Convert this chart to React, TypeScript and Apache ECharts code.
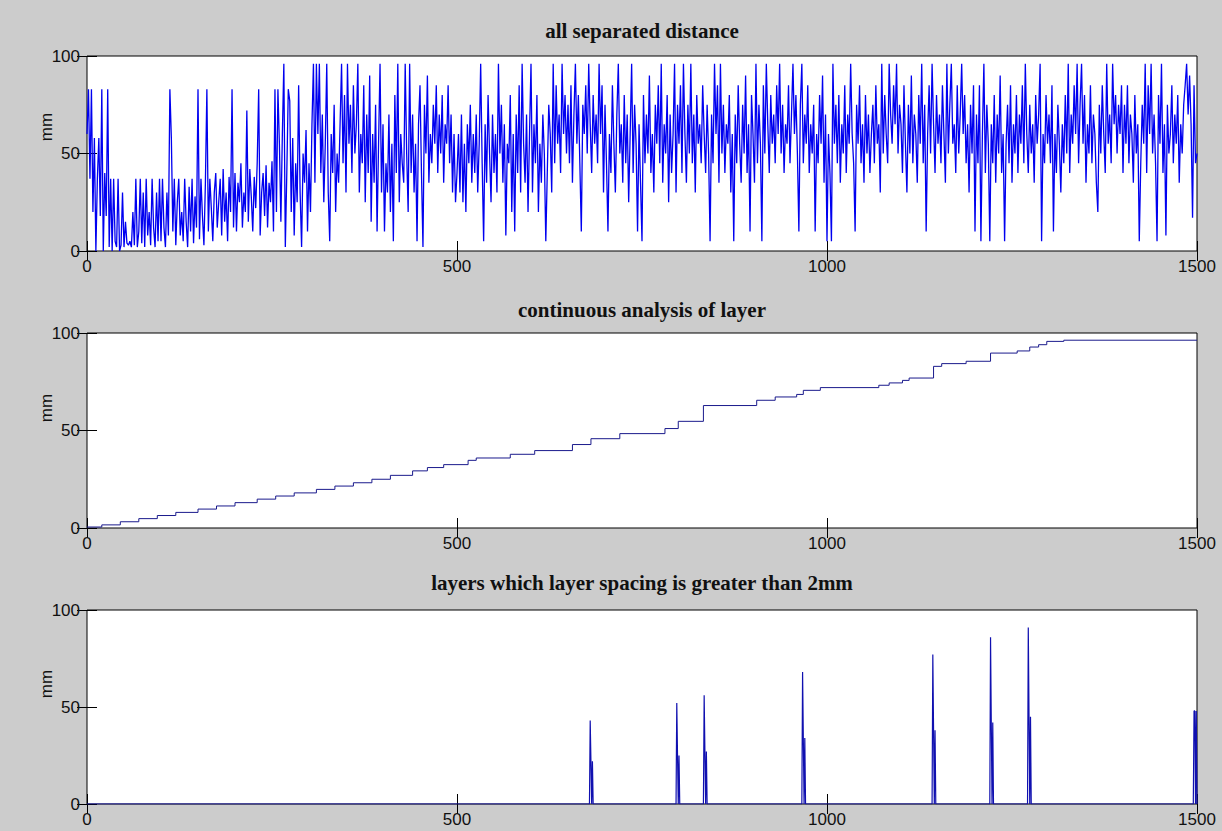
import React, { useEffect, useRef } from "react";
import * as echarts from "echarts";

// Sample spacing of the separated-distance record (index units)
const SAMPLE_STEP = 2;

// Separated distance per sample (mm), one row per 100 index units
const separatedDistance = [
  60, 83, 37, 83, 20, 58, 0, 37, 58, 18, 83, 0, 40, 18, 83, 2, 37, 0, 37, 5,
  2, 37, 0, 3, 30, 2, 15, 4, 3, 5, 2, 20, 3, 37, 2, 10, 37, 4, 30, 2,
  37, 8, 20, 3, 37, 12, 2, 30, 5, 37,

  5, 37, 12, 2, 30, 8, 83, 58, 10, 37, 3, 25, 37, 8, 20, 5, 37, 15, 2, 33,
  10, 37, 4, 28, 12, 83, 6, 37, 18, 3, 35, 83, 10, 37, 22, 5, 30, 40, 12, 25,
  37, 8, 42, 15, 30, 5, 38, 20, 83, 12,

  40, 10, 35, 25, 45, 12, 30, 20, 72, 15, 42, 28, 10, 38, 22, 45, 83, 8, 30, 40,
  18, 44, 12, 35, 25, 46, 10, 83, 20, 83, 55, 15, 60, 96, 2, 40, 83, 77, 20, 58,
  8, 45, 25, 85, 30, 2, 50, 35, 62, 10,

  45, 20, 65, 96, 35, 96, 60, 96, 40, 70, 25, 55, 96, 30, 5, 60, 40, 75, 20, 50,
  35, 65, 96, 45, 80, 30, 96, 55, 75, 40, 85, 50, 65, 96, 30, 60, 45, 85, 25, 70,
  40, 90, 15, 60, 35, 75, 10, 55, 96, 30,

  65, 10, 45, 30, 70, 20, 55, 5, 80, 40, 96, 25, 60, 45, 35, 96, 50, 20, 96, 40,
  70, 30, 55, 5, 65, 85, 40, 2, 75, 50, 90, 35, 60, 45, 75, 55, 85, 40, 70, 50,
  80, 35, 65, 55, 85, 45, 70, 30, 60, 25,

  40, 60, 30, 70, 25, 55, 20, 65, 45, 75, 35, 60, 40, 70, 30, 55, 96, 45, 5, 65,
  35, 80, 50, 25, 70, 40, 60, 30, 96, 50, 75, 35, 65, 8, 55, 45, 80, 20, 60, 10,
  70, 40, 85, 30, 96, 55, 35, 70, 20, 60,

  96, 30, 65, 45, 80, 20, 55, 35, 70, 50, 5, 40, 75, 60, 30, 96, 45, 85, 55, 70,
  40, 96, 60, 80, 50, 75, 45, 85, 35, 70, 96, 55, 80, 45, 10, 75, 60, 85, 50, 96,
  65, 40, 80, 55, 70, 45, 96, 60, 85, 30,

  75, 45, 10, 60, 40, 85, 55, 30, 70, 96, 50, 65, 35, 80, 45, 70, 25, 60, 96, 40,
  75, 55, 10, 65, 35, 5, 80, 45, 70, 50, 90, 40, 60, 30, 75, 55, 85, 45, 96, 35,
  65, 50, 80, 25, 70, 40, 60, 96, 30, 75,

  55, 85, 40, 96, 60, 35, 75, 50, 96, 45, 70, 30, 80, 55, 65, 45, 85, 60, 40, 75,
  50, 5, 70, 45, 96, 60, 85, 35, 96, 50, 75, 40, 65, 55, 80, 30, 60, 5, 70, 45,
  85, 55, 35, 75, 50, 90, 40, 65, 10, 80,

  60, 35, 96, 45, 75, 55, 5, 85, 50, 96, 65, 40, 80, 55, 70, 45, 85, 60, 96, 50,
  75, 40, 65, 55, 85, 45, 70, 96, 60, 80, 50, 10, 75, 96, 45, 70, 55, 85, 40, 65,
  50, 75, 10, 60, 45, 80, 55, 90, 35, 70,

  5, 60, 40, 5, 96, 55, 75, 45, 80, 35, 65, 50, 85, 40, 70, 55, 96, 60, 45, 10,
  75, 55, 85, 45, 65, 35, 80, 50, 70, 40, 60, 75, 45, 85, 55, 65, 30, 96, 50, 80,
  60, 45, 96, 70, 55, 85, 65, 96, 50, 75,

  65, 40, 85, 55, 30, 75, 50, 90, 45, 70, 60, 35, 80, 55, 96, 45, 75, 10, 60, 85,
  50, 96, 65, 40, 80, 55, 70, 45, 85, 60, 35, 96, 50, 75, 96, 55, 65, 40, 85, 50,
  70, 96, 60, 80, 45, 65, 30, 75, 50, 85,

  10, 70, 45, 85, 5, 60, 96, 40, 75, 55, 5, 65, 45, 80, 35, 70, 50, 90, 40, 60,
  5, 55, 75, 45, 85, 35, 65, 50, 80, 40, 70, 55, 85, 45, 96, 60, 40, 75, 50, 65,
  35, 80, 55, 70, 96, 5, 60, 45, 80, 55,

  70, 45, 85, 10, 60, 40, 75, 55, 30, 65, 45, 80, 50, 96, 40, 70, 55, 85, 60, 96,
  45, 75, 96, 55, 80, 35, 65, 50, 85, 45, 70, 60, 35, 20, 75, 50, 85, 60, 40, 96,
  55, 70, 45, 96, 65, 80, 50, 75, 60, 85,

  40, 75, 55, 85, 45, 70, 60, 35, 80, 50, 65, 5, 45, 75, 55, 96, 40, 85, 60, 96,
  50, 70, 45, 5, 80, 55, 96, 40, 65, 8, 75, 50, 60, 85, 45, 70, 55, 80, 35, 65,
  50, 75, 85, 96, 70, 90, 65, 17, 85, 45,

  50,
];

// Cumulative layer position: where each step begins and its level (mm)
const stepPositions = [
  0, 20, 45, 70, 95, 120, 150, 175, 200, 230, 255, 280, 310, 335, 360, 385, 410, 440, 460,
  482, 515, 526, 572, 605, 656, 681, 720, 781, 799, 833, 905, 930, 959, 968, 991, 1070,
  1084, 1102, 1111, 1144, 1155, 1188, 1221, 1257, 1274, 1286, 1297, 1320, 1500,
];
const stepLevels = [
  0.5, 1.6, 3.2, 4.8, 6.4, 8.0, 9.7, 11.3, 13.0, 14.8, 16.4, 18.0, 19.8, 21.5, 23.2, 25.0, 27.0, 29.3, 31.0,
  32.5, 34.7, 35.9, 37.8, 39.7, 42.8, 45.8, 48.4, 51.0, 54.7, 62.8, 65.5, 67.2, 68.5, 70.6, 72.0, 73.2,
  74.4, 75.7, 76.9, 82.9, 84.3, 85.5, 89.7, 90.8, 92.8, 94.0, 95.7, 96.3, 96.3,
];

// Layers whose spacing exceeds 2 mm: position, peak and shoulder heights (mm)
const spikePositions = [680, 797, 834, 967, 1143, 1221, 1272, 1496];
const spikePeaks = [43, 52, 56, 68, 77, 86, 91, 48];
const spikeShoulders = [22, 25, 27, 34, 38, 42, 45, 48];

const titles = [
  "all separated distance",
  "continuous analysis of layer",
  "layers which layer spacing is greater than 2mm",
];
const yAxisName = "mm";

const X_MAX = 1500;
const Y_MAX = 100;

// Panel geometry (px)
const PLOT_LEFT = 87;
const PLOT_WIDTH = 1110;
const panelTops = [56, 333, 610];
const panelHeights = [195, 195, 194];
const titleCenters = [31, 310, 583];
const nameCenters = [127, 408, 684];

const LABEL_FONT = "'Liberation Sans', Arial, sans-serif";
const TITLE_FONT = "'Liberation Serif', 'Times New Roman', serif";

export default function App() {
  const ref = useRef<HTMLDivElement>(null);

  useEffect(() => {
    if (!ref.current) return;
    const chart = echarts.init(ref.current, undefined, { renderer: "svg" });

    const distanceData = separatedDistance.map((v, i) => [i * SAMPLE_STEP, v]);
    const layerData = stepPositions.map((x, i) => [x, stepLevels[i]]);
    const spikeData: number[][] = [[0, 0]];
    spikePositions.forEach((p, i) => {
      const s = spikeShoulders[i];
      spikeData.push([p - 1, 0], [p, spikePeaks[i]], [p + 1, s], [p + 2, 0], [p + 3, s], [p + 4, 0]);
    });
    if (spikeData[spikeData.length - 1][0] < X_MAX) spikeData.push([X_MAX, 0]);

    const grids = panelTops.map((top, g) => ({
      left: PLOT_LEFT,
      top,
      width: PLOT_WIDTH,
      height: panelHeights[g],
      show: true,
      backgroundColor: "#ffffff",
      borderColor: "#000000",
      borderWidth: 1,
    }));

    const tick = { inside: true, length: 10, lineStyle: { color: "#000", width: 1 } };
    const label = {
      fontSize: 17,
      color: "#111",
      fontFamily: LABEL_FONT,
      margin: 7,
      formatter: (v: number) => String(v),
    };

    const xAxes: any[] = [];
    const yAxes: any[] = [];
    panelTops.forEach((_, g) => {
      ["bottom", "top"].forEach((pos, k) => {
        xAxes.push({
          gridIndex: g,
          type: "value",
          position: pos,
          min: 0,
          max: X_MAX,
          interval: 500,
          axisLine: { show: false },
          axisTick: tick,
          axisLabel: { ...label, show: k === 0 },
          splitLine: { show: false },
        });
      });
      ["left", "right"].forEach((pos, k) => {
        yAxes.push({
          gridIndex: g,
          type: "value",
          position: pos,
          min: 0,
          max: Y_MAX,
          interval: 50,
          axisLine: { show: false },
          axisTick: tick,
          axisLabel: { ...label, show: k === 0 },
          splitLine: { show: false },
        });
      });
    });

    const lineSeries = (g: number, data: number[][], color: string, width: number, extra: any = {}) => ({
      type: "line",
      xAxisIndex: g * 2,
      yAxisIndex: g * 2,
      data,
      showSymbol: false,
      symbol: "none",
      clip: true,
      lineStyle: { color, width },
      ...extra,
    });

    chart.setOption({
      animation: false,
      backgroundColor: "#cccccc",
      title: titles.map((t, g) => ({
        text: t,
        left: PLOT_LEFT + PLOT_WIDTH / 2,
        textAlign: "center",
        top: titleCenters[g] - 11,
        padding: 0,
        textStyle: { fontFamily: TITLE_FONT, fontWeight: "bold", fontSize: 21, color: "#111" },
      })),
      grid: grids,
      xAxis: xAxes,
      yAxis: yAxes,
      graphic: nameCenters.map((y) => ({
        type: "text",
        x: 46,
        y,
        rotation: Math.PI / 2,
        style: {
          text: yAxisName,
          fontSize: 17,
          fontFamily: LABEL_FONT,
          fill: "#111",
          textAlign: "center",
          textVerticalAlign: "middle",
        },
      })),
      series: [
        lineSeries(0, distanceData, "#0000f0", 1.3),
        lineSeries(1, layerData, "#1a1a8c", 1, { step: "end" }),
        lineSeries(2, spikeData, "#1010b0", 1.2),
      ],
    });

    return () => chart.dispose();
  }, []);

  return <div ref={ref} style={{ position: "fixed", left: 0, top: 0, width: 1222, height: 831 }} />;
}
